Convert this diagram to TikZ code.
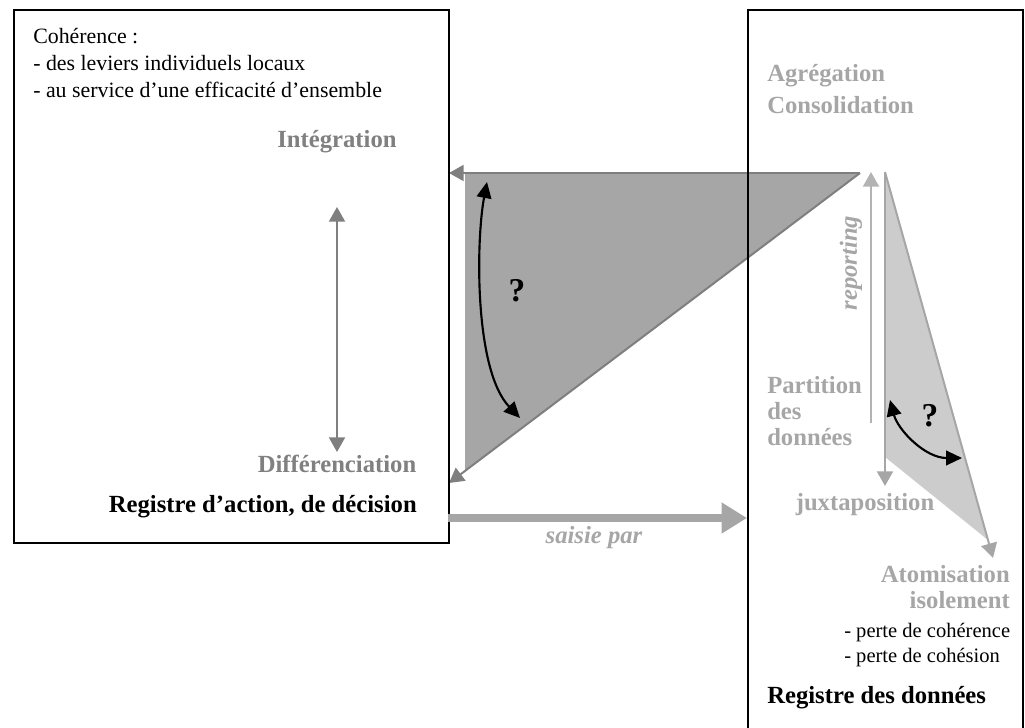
\documentclass[tikz,border=0pt]{standalone}
\usepackage{fontspec}
\setmainfont{Liberation Serif}
\usetikzlibrary{arrows.meta, positioning}
\definecolor{darkedge}{HTML}{7F7F7F}
\definecolor{darkfill}{HTML}{A6A6A6}
\definecolor{lightedge}{HTML}{A6A6A6}
\definecolor{lightfill}{HTML}{CCCCCC}
\definecolor{lighttext}{HTML}{A6A6A6}
\definecolor{midtext}{HTML}{808080}
\definecolor{repline}{HTML}{B3B3B3}

\begin{document}
\begin{tikzpicture}[x=0.75pt, y=-0.75pt,
    frame/.style={draw=black, line width=1.7pt, inner sep=0pt, anchor=north west},
    biglabel/.style={font=\fontsize{18.5}{20}\selectfont\bfseries, inner sep=0pt},
    smalltext/.style={font=\fontsize{15.4}{20.25}\selectfont, inner sep=0pt, align=left},
    grayarrow/.style={line width=1.5pt, -{Triangle[length=11pt, width=12pt]}},
    blackarrow/.style={line width=1.6pt, {Triangle[length=12pt, width=11pt]}-{Triangle[length=12pt, width=11pt]}},
    quest/.style={font=\fontsize{25}{25}\selectfont\bfseries, inner sep=0pt}]
    \useasboundingbox (0,0) rectangle (1025,728);

    % dark triangle
    \coordinate (apex) at (860,173);
    \coordinate (tl) at (465,173);
    \coordinate (bl) at (465,471);
    \coordinate (topend) at (449,173);
    \coordinate (lowend) at (449,483);
    \fill[darkfill] (tl) -- (apex) -- (bl) -- cycle;
    \draw[grayarrow, darkedge] (apex) -- (topend);
    \draw[grayarrow, darkedge] (apex) -- (lowend);

    % light triangle
    \coordinate (ltop) at (885,172);
    \coordinate (lcorner) at (885,457);
    \coordinate (lbot) at (988,540);
    \coordinate (ltip) at (993,558);
    \coordinate (ldown) at (885,486);
    \fill[lightfill] (ltop) -- (lcorner) -- (lbot) -- cycle;
    \draw[grayarrow, lightedge] (ltop) -- (ldown);
    \draw[grayarrow, lightedge] (ltop) -- (ltip);
    \coordinate (rep0) at (871,423);
    \coordinate (rep1) at (871,172);
    \draw[grayarrow, repline] (rep0) -- (rep1);

    % frames
    \node[frame, minimum width=326.25pt, minimum height=399.75pt] (action) at (13,9) {};
    \node[frame, minimum width=206.25pt, minimum height=600pt] (donnees) at (747,9) {};

    % left box
    \node[smalltext, anchor=base west, font=\fontsize{16.4}{20.25}\selectfont] (coh) at (33,97) {Cohérence :\\- des leviers individuels locaux\\- au service d’une efficacité d’ensemble};
    \node[biglabel, text=midtext, anchor=base] (integ) at (337,147) {Intégration};
    \node[biglabel, text=midtext, anchor=base] (diff) at (337,472) {Différenciation};
    \coordinate (v1) at (337,207);
    \coordinate (v2) at (337,452);
    \draw[line width=1.5pt, darkedge, {Triangle[length=11pt, width=12pt]}-{Triangle[length=11pt, width=12pt]}] (v1) -- (v2);
    \node[biglabel, anchor=base east] (regaction) at (417,512) {Registre d’action, de décision};

    % curved arrows
    \coordinate (q1a) at (487,182);
    \coordinate (q1b) at (520,418);
    \draw[blackarrow] (q1a) .. controls (476,240) and (474,370) .. (q1b);
    \node[quest] (q1) at (517,291) {?};
    \coordinate (q2a) at (890,400);
    \coordinate (q2b) at (962,458);
    \draw[blackarrow] (q2a) .. controls (898,430) and (925,458) .. (q2b);
    \node[quest] (q2) at (930,416) {?};

    % saisie par
    \coordinate (s0) at (448,518);
    \draw[line width=5.6pt, lighttext, -{Triangle[length=19pt, width=22pt]}] (s0) -- (s0 -| donnees.west);
    \node[biglabel, text=lighttext, font=\fontsize{18.5}{20}\selectfont\bfseries\itshape, anchor=base] (saisie) at (594,543) {saisie par};

    % right box
    \node[biglabel, text=lighttext, align=left, anchor=base west, font=\fontsize{18.5}{24}\selectfont\bfseries] (agreg) at (767,113) {Agrégation\\Consolidation};
    \node[biglabel, text=lighttext, font=\fontsize{18.5}{20}\selectfont\bfseries\itshape, rotate=90] (report) at (851,263) {reporting};
    \node[biglabel, text=lighttext, align=left, anchor=base west, font=\fontsize{18.5}{19.5}\selectfont\bfseries] (partition) at (767,445) {Partition\\des\\données};
    \node[biglabel, text=lighttext, anchor=base] (juxta) at (865,510) {juxtaposition};
    \node[biglabel, text=lighttext, align=right, anchor=base east, font=\fontsize{18.5}{19.5}\selectfont\bfseries] (atom) at (1010,608) {Atomisation\\isolement};
    \node[smalltext, anchor=base west, font=\fontsize{15.4}{18.75}\selectfont] (perte) at (844,662) {- perte de cohérence\\- perte de cohésion};
    \node[biglabel, anchor=base west] (regdonnees) at (767,703) {Registre des données};
\end{tikzpicture}
\end{document}
